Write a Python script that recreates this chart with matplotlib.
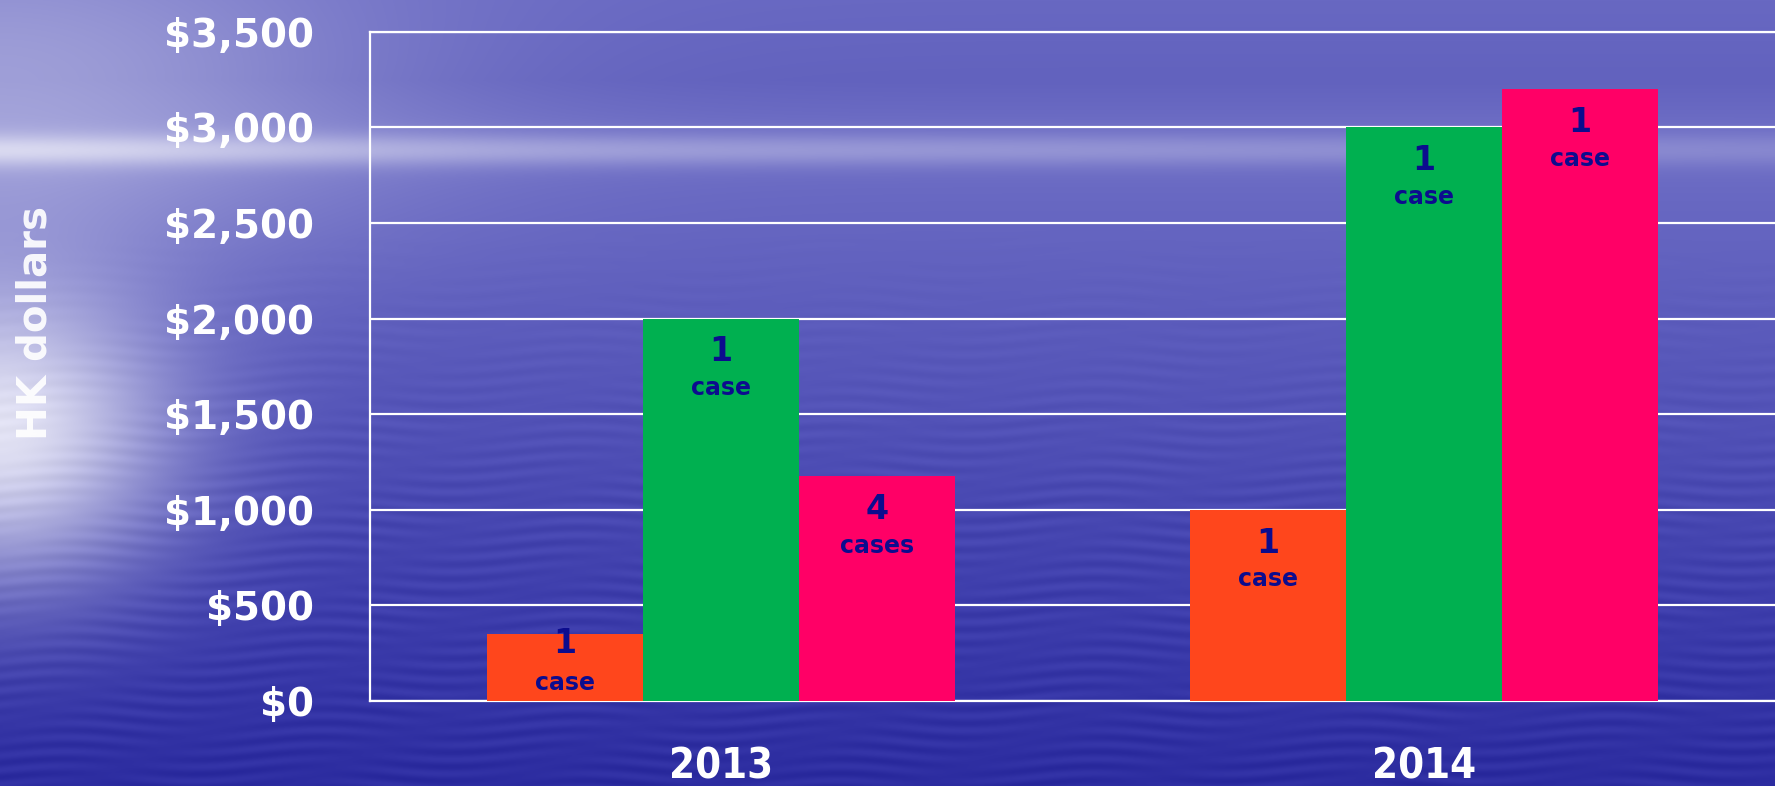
import numpy as np
import matplotlib
matplotlib.use("Agg")
import matplotlib.pyplot as plt
from matplotlib.ticker import FuncFormatter

# Reimbursement amounts (HK dollars) per year, three categories per year
years = ["2013", "2014"]
orange_vals = [350, 1000]
green_vals = [2000, 3000]
pink_vals = [1175, 3200]

# Number of cases behind each bar
orange_cases = [1, 1]
green_cases = [1, 1]
pink_cases = [4, 1]

y_ticks = [0, 500, 1000, 1500, 2000, 2500, 3000, 3500]

COL_ORANGE = "#FF461C"
COL_GREEN = "#00B050"
COL_PINK = "#FF0066"
COL_LABEL = "#0C0C8E"

W, H = 1775, 786
fig = plt.figure(figsize=(W / 100, H / 100), dpi=100)

# ---- sea / sky backdrop ----
yy, xx = np.mgrid[0:H, 0:W].astype(float)
stops_y = [0, 80, 140, 200, 400, 600, 786]
stops_c = np.array([
    [104, 104, 194],
    [98, 98, 190],
    [112, 112, 198],
    [104, 104, 194],
    [84, 84, 184],
    [62, 62, 172],
    [44, 44, 160],
], dtype=float)
bg = np.zeros((H, W, 3))
for k in range(3):
    bg[:, :, k] = np.interp(yy[:, 0], stops_y, stops_c[:, k])[:, None]

# hazy horizon band, brighter on the left
band = np.exp(-(((yy - 150) / 16.0) ** 2)) * (0.45 - 0.25 * xx / W)
# soft glow coming in from the left edge
glow = 0.95 * np.exp(-((xx / 170.0) ** 2) - (((yy - 430) / 150.0) ** 2))
glow_top = 0.45 * np.exp(-((xx / 380.0) ** 2) - (((yy - 90) / 170.0) ** 2))
g = np.clip(glow + glow_top + band, 0, 1)[:, :, None]
bg = bg * (1 - g) + np.array([232, 232, 246]) * g

# faint ripples on the water
ripple = np.sin(yy / 2.3 + 1.7 * np.sin(xx / 41.0)) * np.sin(xx / 67.0 + yy / 29.0)
water = np.clip((yy - 220) / 300.0, 0, 1)
bg = bg + (ripple * water * 6)[:, :, None]
bg = np.clip(bg, 0, 255) / 255.0

bg_ax = fig.add_axes([0, 0, 1, 1], zorder=0)
bg_ax.imshow(bg, aspect="auto", extent=(0, 1, 0, 1), origin="upper")
bg_ax.axis("off")

# ---- main chart ----
ax = fig.add_axes([370 / W, 1 - 701 / H, 1 - 370 / W, (701 - 31.7) / H], zorder=1)
ax.patch.set_alpha(0)

x = np.arange(len(years))
bw = 0.222
series = [
    (orange_vals, orange_cases, COL_ORANGE, -bw),
    (green_vals, green_cases, COL_GREEN, 0.0),
    (pink_vals, pink_cases, COL_PINK, bw),
]

font = dict(family="DejaVu Sans", fontweight="bold")

for vals, cases, col, off in series:
    bars = ax.bar(x + off, vals, width=bw, color=col, zorder=3, linewidth=0)
    for rect, v, n in zip(bars, vals, cases):
        cx = rect.get_x() + rect.get_width() / 2
        # short bars get their label pushed up against the top edge
        drop_num, drop_word = (-7, -35) if v < 500 else (-24, -50)
        ax.annotate(str(n), (cx, v), xytext=(0, drop_num), textcoords="offset points",
                    ha="center", va="center", color=COL_LABEL, fontsize=24, zorder=4, **font)
        ax.annotate("case" if n == 1 else "cases", (cx, v), xytext=(0, drop_word),
                    textcoords="offset points", ha="center", va="center",
                    color=COL_LABEL, fontsize=17, zorder=4, **font)

ax.set_xlim(-0.5, 1.5)
ax.set_ylim(0, 3500)
ax.set_yticks(y_ticks)
ax.yaxis.set_major_formatter(FuncFormatter(lambda v, p: f"${int(v):,}"))
ax.set_xticks(x)
ax.set_xticklabels(years)
ax.grid(axis="y", color="white", linewidth=1.6, zorder=1)
ax.set_axisbelow(True)

ax.spines["right"].set_visible(False)
for side in ["left", "bottom", "top"]:
    ax.spines[side].set_color("white")
    ax.spines[side].set_linewidth(1.6)

ax.tick_params(axis="both", length=0, colors="white")
ax.tick_params(axis="y", pad=40)
ax.tick_params(axis="x", pad=32)
for lbl in ax.get_yticklabels():
    lbl.set_fontsize(28)
    lbl.set_fontweight("bold")
for lbl in ax.get_xticklabels():
    lbl.set_fontsize(30)
    lbl.set_fontweight("bold")
    lbl.set_fontstretch("condensed")

fig.text(36 / W, 1 - 323 / H, "HK dollars", rotation=90, ha="center", va="center",
         color="white", alpha=0.92, fontsize=29, **font)

fig.savefig("out.png", dpi=100)
